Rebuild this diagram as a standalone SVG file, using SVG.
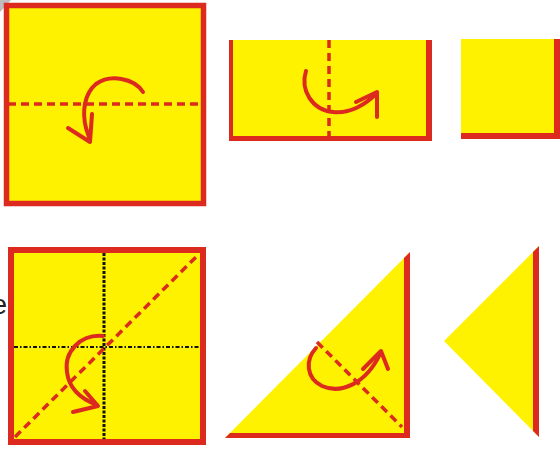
<svg xmlns="http://www.w3.org/2000/svg" width="560" height="451" viewBox="0 0 560 451">
<style>
.y{fill:#FFF200}
.r{fill:#DC2A1F}
.sq{fill:#FFF200;stroke:#DC2A1F}
.fold{fill:none;stroke:#DC2A1F;stroke-width:3.5;stroke-dasharray:8 5}
.arr{fill:none;stroke:#DC2A1F;stroke-width:4;stroke-linecap:round;stroke-linejoin:round}
.blk{fill:none;stroke:#111;}
</style>
<rect width="560" height="451" fill="#fff"/>
<polygon points="0,0 11,0 0,12" fill="#bdbdbd"/>

<g id="step1">
  <rect class="sq" x="6.5" y="5.5" width="197" height="198" stroke-width="5.5"/>
  <line class="fold" x1="8" y1="104" x2="202" y2="104"/>
  <path class="arr" d="M143,92 C134,78 110,74 96,84 C84,94 82,112 86,128 L90,140"/>
  <path class="arr" d="M68,128 L90,142 L92,114"/>
</g>

<g id="step2">
  <rect class="r" x="229" y="40" width="203" height="101"/>
  <rect class="y" x="233" y="40" width="193" height="96"/>
  <line class="fold" x1="329" y1="40" x2="329" y2="140"/>
  <path class="arr" d="M306,71 C300,90 312,110 333,112 C350,114 366,104 377,93"/>
  <path class="arr" d="M356,102 L377,92 L377,117"/>
</g>

<g id="step3">
  <rect class="r" x="461" y="39" width="99" height="100"/>
  <rect class="y" x="461" y="39" width="93" height="94"/>
</g>

<g id="step4">
  <text x="7" y="314" text-anchor="end" font-family="Liberation Sans, Arial, sans-serif" font-size="28" fill="#222">e</text>
  <rect class="sq" x="11" y="250" width="192" height="192" stroke-width="6"/>
  <line class="blk" x1="104" y1="253" x2="104" y2="439" stroke-width="3" stroke-dasharray="3 1.5"/>
  <line class="blk" x1="14" y1="347" x2="200" y2="347" stroke-width="2" stroke-dasharray="4 2 1.5 2"/>
  <line class="fold" x1="15" y1="437" x2="198" y2="255" stroke-width="4" stroke-dasharray="10 6"/>
  <path class="arr" d="M103,336 C80,334 64,352 67,372 C69,390 84,400 97,405"/>
  <path class="arr" d="M85,391 L98,406 L73,412"/>
</g>

<g id="step5">
  <polygon class="y" points="225,438 410,252 410,438"/>
  <polygon class="r" points="404,258 410,252 410,438 404,438"/>
  <polygon class="r" points="230,433 404,433 404,438 225,438"/>
  <line class="fold" x1="317" y1="342" x2="402" y2="427" stroke-width="4"/>
  <path class="arr" d="M316,348 C305,360 306,378 322,386 C340,394 366,385 381,352"/>
  <path class="arr" d="M363,369 L381,351 L388,369"/>
</g>

<g id="step6">
  <polygon class="y" points="444,341 539,246 539,437"/>
  <polygon class="r" points="533,252 539,246 539,437 533,431"/>
</g>
</svg>
